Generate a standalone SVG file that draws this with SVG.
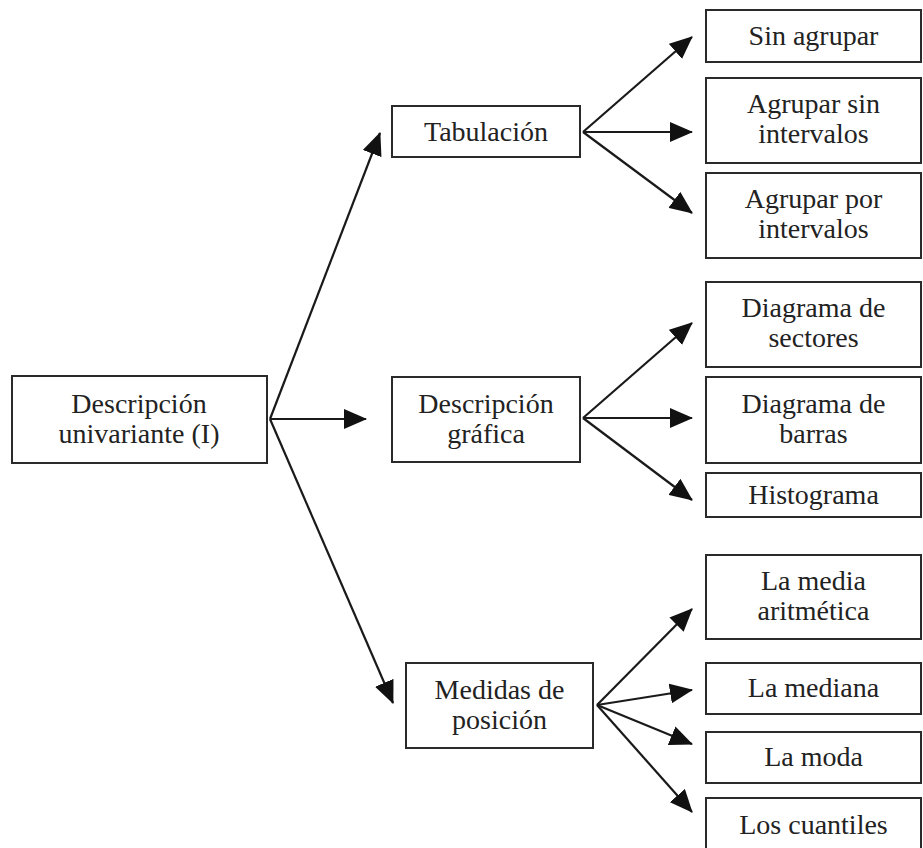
<svg xmlns="http://www.w3.org/2000/svg" width="923" height="848" viewBox="0 0 923 848">
  <style>
    .box { fill: #ffffff; stroke: #2a2a2a; stroke-width: 2; }
    .lbl { font-family: "Liberation Serif", "DejaVu Serif", serif; font-size: 28px; fill: #222222; text-anchor: middle; }
    .edge { fill: none; stroke: #1a1a1a; stroke-width: 2.2; marker-end: url(#head); }
  </style>
  <defs>
    <marker id="head" markerUnits="userSpaceOnUse" markerWidth="23" markerHeight="20" refX="22" refY="10" orient="auto">
      <path d="M0,0 L23,10 L0,20 z" fill="#111111"/>
    </marker>
  </defs>
  <rect width="923" height="848" fill="#ffffff"/>

  <!-- connectors -->
  <g id="connectors">
    <line class="edge" x1="270" y1="419" x2="380" y2="133"/>
    <line class="edge" x1="270" y1="419" x2="366" y2="419"/>
    <line class="edge" x1="270" y1="419" x2="393" y2="703"/>

    <line class="edge" x1="583" y1="132" x2="692" y2="37"/>
    <line class="edge" x1="583" y1="132" x2="692" y2="132"/>
    <line class="edge" x1="583" y1="132" x2="692" y2="213"/>

    <line class="edge" x1="583" y1="418" x2="692" y2="323"/>
    <line class="edge" x1="583" y1="418" x2="692" y2="418"/>
    <line class="edge" x1="583" y1="418" x2="692" y2="500"/>

    <line class="edge" x1="597" y1="705" x2="692" y2="609"/>
    <line class="edge" x1="597" y1="705" x2="692" y2="690"/>
    <line class="edge" x1="597" y1="705" x2="692" y2="744"/>
    <line class="edge" x1="597" y1="705" x2="692" y2="812"/>
  </g>

  <!-- root -->
  <g id="descripcion-univariante">
    <rect class="box" x="12" y="376" width="255" height="87"/>
    <text class="lbl" x="139" y="413">Descripción</text>
    <text class="lbl" x="139" y="443">univariante (I)</text>
  </g>

  <!-- second level -->
  <g id="tabulacion">
    <rect class="box" x="392" y="106" width="188" height="51"/>
    <text class="lbl" x="486" y="141">Tabulación</text>
  </g>
  <g id="descripcion-grafica">
    <rect class="box" x="392" y="377" width="188" height="85"/>
    <text class="lbl" x="486" y="413">Descripción</text>
    <text class="lbl" x="486" y="443">gráfica</text>
  </g>
  <g id="medidas-posicion">
    <rect class="box" x="406" y="663" width="187" height="85"/>
    <text class="lbl" x="499.5" y="699">Medidas de</text>
    <text class="lbl" x="499.5" y="729">posición</text>
  </g>

  <!-- leaves: tabulación -->
  <g id="sin-agrupar">
    <rect class="box" x="706" y="10" width="215" height="52"/>
    <text class="lbl" x="813.5" y="45">Sin agrupar</text>
  </g>
  <g id="agrupar-sin-intervalos">
    <rect class="box" x="706" y="78" width="215" height="85"/>
    <text class="lbl" x="813.5" y="113">Agrupar sin</text>
    <text class="lbl" x="813.5" y="143">intervalos</text>
  </g>
  <g id="agrupar-por-intervalos">
    <rect class="box" x="706" y="173" width="215" height="85"/>
    <text class="lbl" x="813.5" y="208">Agrupar por</text>
    <text class="lbl" x="813.5" y="238">intervalos</text>
  </g>

  <!-- leaves: descripción gráfica -->
  <g id="diagrama-sectores">
    <rect class="box" x="706" y="282" width="215" height="85"/>
    <text class="lbl" x="813.5" y="317">Diagrama de</text>
    <text class="lbl" x="813.5" y="347">sectores</text>
  </g>
  <g id="diagrama-barras">
    <rect class="box" x="706" y="377" width="215" height="86"/>
    <text class="lbl" x="813.5" y="413">Diagrama de</text>
    <text class="lbl" x="813.5" y="443">barras</text>
  </g>
  <g id="histograma">
    <rect class="box" x="706" y="473" width="215" height="44"/>
    <text class="lbl" x="813.5" y="504">Histograma</text>
  </g>

  <!-- leaves: medidas de posición -->
  <g id="media-aritmetica">
    <rect class="box" x="706" y="555" width="215" height="84"/>
    <text class="lbl" x="813.5" y="590">La media</text>
    <text class="lbl" x="813.5" y="620">aritmética</text>
  </g>
  <g id="mediana">
    <rect class="box" x="706" y="663" width="215" height="51"/>
    <text class="lbl" x="813.5" y="697">La mediana</text>
  </g>
  <g id="moda">
    <rect class="box" x="706" y="732" width="215" height="51"/>
    <text class="lbl" x="813.5" y="766">La moda</text>
  </g>
  <g id="cuantiles">
    <rect class="box" x="706" y="798" width="215" height="60"/>
    <text class="lbl" x="813.5" y="834">Los cuantiles</text>
  </g>
</svg>
